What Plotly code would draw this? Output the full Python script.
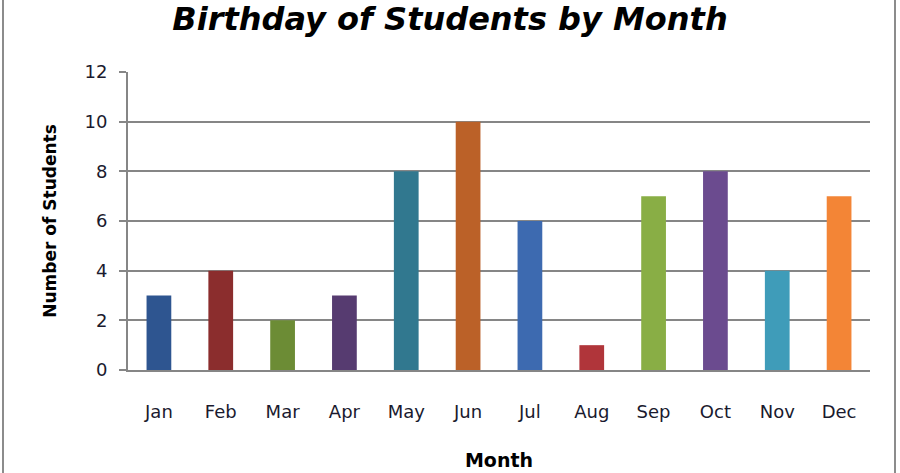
import plotly.graph_objects as go

months = ['Jan', 'Feb', 'Mar', 'Apr', 'May', 'Jun',
          'Jul', 'Aug', 'Sep', 'Oct', 'Nov', 'Dec']
students = [3, 4, 2, 3, 8, 10, 6, 1, 7, 8, 4, 7]
bar_colors = ['#2E5590', '#8B2D2D', '#6C8C35', '#563B70', '#31788F', '#BB6128',
              '#3D6AB0', '#B0353A', '#89AE45', '#6B4B8F', '#3F9CB9', '#F38536']
y_ticks = [0, 2, 4, 6, 8, 10, 12]

FONT = '"DejaVu Sans", sans-serif'
W, H = 900, 473
L, R, T, B = 128, 30, 72, 103

fig = go.Figure(
    go.Bar(
        x=months,
        y=students,
        marker={'color': bar_colors, 'line': {'width': 0}},
        showlegend=False,
    )
)

# grey frame around the chart (left and right edges show in the crop)
pw = W - L - R
ph = H - T - B
fig.add_shape(
    type='rect', xref='paper', yref='paper',
    x0=(3 - L) / pw, x1=(895 - L) / pw,
    y0=-(B + 20) / ph, y1=1 + (T + 20) / ph,
    line={'color': '#8C8C8C', 'width': 2},
    layer='below',
)

fig.update_layout(
    width=W, height=H,
    margin={'l': L, 'r': R, 't': T, 'b': B},
    plot_bgcolor='white',
    paper_bgcolor='white',
    bargap=0.6,
    font={'family': FONT, 'color': '#1A1A2E', 'size': 18},
    title={
        'text': '<b><i>Birthday of Students by Month</i></b>',
        'x': 0.5, 'xanchor': 'center',
        'y': 1 - 19 / H, 'yanchor': 'middle',
        'font': {'size': 32, 'color': '#000000', 'family': FONT},
    },
    xaxis={
        'title': {'text': '<b>Month</b>', 'font': {'size': 19, 'color': '#000000'},
                  'standoff': 33},
        'automargin': False,
        'showline': True, 'linecolor': '#868686', 'linewidth': 2,
        'ticks': '', 'ticklabelstandoff': 24,
        'tickfont': {'size': 18},
    },
    yaxis={
        'title': {'text': '<b>Number of Students</b>', 'font': {'size': 17, 'color': '#000000'},
                  'standoff': 24},
        'automargin': False,
        'range': [0, 12],
        'tickvals': y_ticks,
        'showgrid': True, 'gridcolor': '#868686', 'gridwidth': 2,
        'showline': True, 'linecolor': '#868686', 'linewidth': 2,
        'ticks': 'outside', 'ticklen': 7, 'tickcolor': '#868686', 'tickwidth': 2,
        'ticklabelstandoff': 8,
        'tickfont': {'size': 18},
        'zeroline': False,
    },
)

fig.write_html('out.html', config={'displayModeBar': False},
               post_script="document.body.style.margin='0';")
